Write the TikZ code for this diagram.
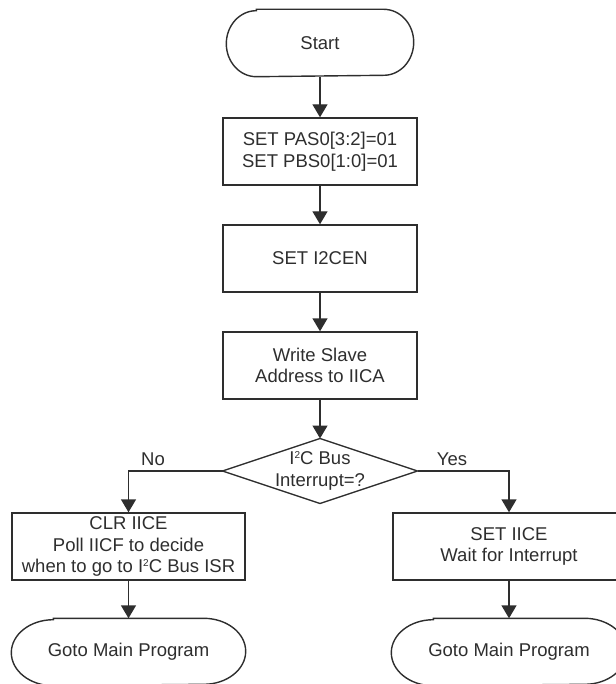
\documentclass[tikz,border=0pt]{standalone}
\usepackage{fontspec}
\setmainfont{Liberation Sans}
\usetikzlibrary{arrows.meta}
\definecolor{ink}{gray}{0.18}
\newcommand{\sqc}{I\raisebox{5.8pt}{\fontsize{10}{10}\selectfont 2}C}
\begin{document}
\begin{tikzpicture}[x=1pt,y=-1pt,
  line width=1.4pt, ink,
  txt/.style={align=center, inner sep=0pt, text=ink, font=\fontsize{18.5}{21.5}\selectfont},
  box/.style={txt, draw=ink, rectangle, minimum height=67pt},
  term/.style={draw=ink},
  arr/.style={draw=ink, -{Triangle[length=13pt,width=15pt]}}]
\useasboundingbox (0,0) rectangle (615,684);
% Start terminal
\node[txt, minimum width=186pt, minimum height=66pt] (start) at (320,43) {Start};
\draw[term] ([xshift=30pt]start.north west) -- ([xshift=-30pt]start.north east)
  arc[start angle=90, end angle=-90, x radius=30pt, y radius=33pt]
  -- ([xshift=30pt]start.south west)
  arc[start angle=270, end angle=90, x radius=30pt, y radius=33pt] -- cycle;
% boxes
\node[box, minimum width=194pt] (b1) at (320,151.5) {SET PAS0[3:2]=01\\SET PBS0[1:0]=01};
\node[box, minimum width=194pt] (b2) at (320,258.5) {SET I2CEN};
\node[box, minimum width=194pt] (b3) at (320,365.5) {Write Slave\\Address to IICA};
% decision
\coordinate (dt) at (320,438.5);
\coordinate (dr) at (417.5,471);
\coordinate (db) at (320,503.5);
\coordinate (dl) at (222.5,471);
\draw (dt) -- (dr) -- (db) -- (dl) -- cycle;
\node[txt] (d) at (320,471) {\sqc{} Bus\\Interrupt=?};
% branch boxes
\node[box, minimum width=233pt] (lb) at (128.5,546.5) {CLR IICE\\Poll IICF to decide\\when to go to \sqc{} Bus ISR};
\node[box, minimum width=232pt] (rb) at (509,546.5) {SET IICE\\Wait for Interrupt};
% end terminals
\node[txt, minimum width=233pt, minimum height=66pt] (le) at (128.5,652) {Goto Main Program};
\draw[term] ([xshift=42pt]le.north west) -- ([xshift=-42pt]le.north east)
  arc[start angle=90, end angle=-90, x radius=42pt, y radius=33pt]
  -- ([xshift=42pt]le.south west)
  arc[start angle=270, end angle=90, x radius=42pt, y radius=33pt] -- cycle;
\node[txt, minimum width=234pt, minimum height=66pt] (re) at (509,652) {Goto Main Program};
\draw[term] ([xshift=42pt]re.north west) -- ([xshift=-42pt]re.north east)
  arc[start angle=90, end angle=-90, x radius=42pt, y radius=33pt]
  -- ([xshift=42pt]re.south west)
  arc[start angle=270, end angle=90, x radius=42pt, y radius=33pt] -- cycle;
% connectors
\draw[arr] (start) -- (b1);
\draw[arr] (b1) -- (b2);
\draw[arr] (b2) -- (b3);
\draw[arr] (b3) -- (dt);
\draw[arr] (dl) -| (lb);
\draw[arr] (dr) -| (rb);
\draw[arr] (lb) -- (le);
\draw[arr] (rb) -- (re);
% labels
\node[txt] (no) at (153,459) {No};
\node[txt] (yes) at (452,459) {Yes};
\end{tikzpicture}
\end{document}
